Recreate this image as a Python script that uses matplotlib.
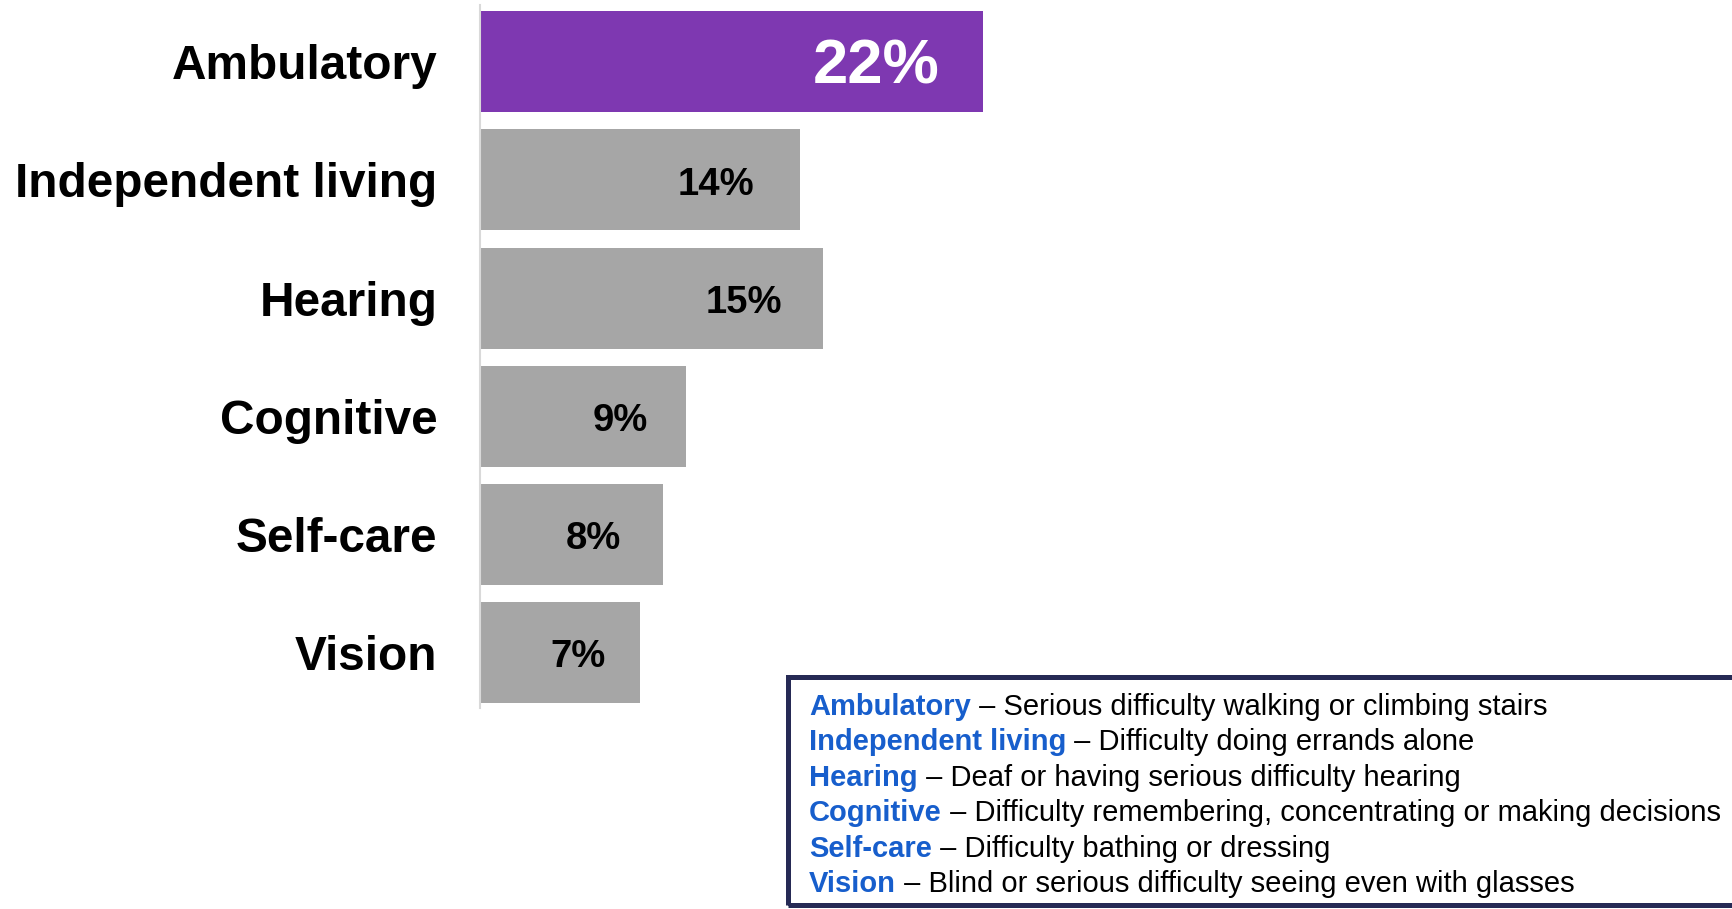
import matplotlib.pyplot as plt
from matplotlib.patches import Rectangle

CATEGORIES = ["Ambulatory", "Independent living", "Hearing", "Cognitive", "Self-care", "Vision"]
VALUES = [22, 14, 15, 9, 8, 7]
VALUE_LABELS = ["22%", "14%", "15%", "9%", "8%", "7%"]
DESCRIPTIONS = [
    "Serious difficulty walking or climbing stairs",
    "Difficulty doing errands alone",
    "Deaf or having serious difficulty hearing",
    "Difficulty remembering, concentrating or making decisions",
    "Difficulty bathing or dressing",
    "Blind or serious difficulty seeing even with glasses",
]

# inset of each value label from the bar end, in points
LABEL_INSET = [31, 33, 29.5, 27.5, 30.5, 25]

HIGHLIGHT = "#7E38B1"
GRAY = "#A6A6A6"
TERM_BLUE = "#175ECC"
BOX_EDGE = "#262A55"

W, H = 1733, 909

plt.rcParams["font.family"] = ["Liberation Sans", "DejaVu Sans"]

fig = plt.figure(figsize=(W / 100, H / 100), dpi=100)
ax = fig.add_axes([480.5 / W, 1 - 708 / H, 1 - 480.5 / W, 703 / H])

y = list(range(len(CATEGORIES)))
colors = [HIGHLIGHT] + [GRAY] * (len(CATEGORIES) - 1)
ax.barh(y, VALUES, height=0.855, color=colors, zorder=2)

ax.set_xlim(0, 54.84)
ax.set_ylim(5.47, -0.48)

for i, (v, lab) in enumerate(zip(VALUES, VALUE_LABELS)):
    first = i == 0
    ax.annotate(
        lab,
        xy=(v, i),
        xytext=(-LABEL_INSET[i], -3.5),
        textcoords="offset points",
        ha="right",
        va="center",
        fontsize=45.5 if first else 27.5,
        fontweight="bold",
        color="white" if first else "black",
    )

ax.set_yticks(y)
ax.set_yticklabels(CATEGORIES, fontsize=34.4, fontweight="bold")
ax.tick_params(axis="y", length=0, pad=31)
ax.set_xticks([])
for side in ("top", "right", "bottom"):
    ax.spines[side].set_visible(False)
ax.spines["left"].set_color("#D9D9D9")
ax.spines["left"].set_linewidth(1.5)

# definitions box
fig.patches.append(
    Rectangle(
        (788.5 / W, 1 - 904.5 / H),
        (1760 - 788.5) / W,
        (904.5 - 676.5) / H,
        transform=fig.transFigure,
        fill=False,
        edgecolor=BOX_EDGE,
        linewidth=3.6,
    )
)

for i, (term, desc) in enumerate(zip(CATEGORIES, DESCRIPTIONS)):
    t = fig.text(
        809 / W,
        1 - (715 + 35.4 * i) / H,
        term,
        fontsize=21,
        fontweight="bold",
        color=TERM_BLUE,
        va="baseline",
    )
    ax.annotate(
        " \u2013 " + desc,
        xy=(1, 0),
        xycoords=t,
        ha="left",
        va="bottom",
        fontsize=21,
        color="black",
        annotation_clip=False,
    )

fig.savefig("out.png", dpi=100)
